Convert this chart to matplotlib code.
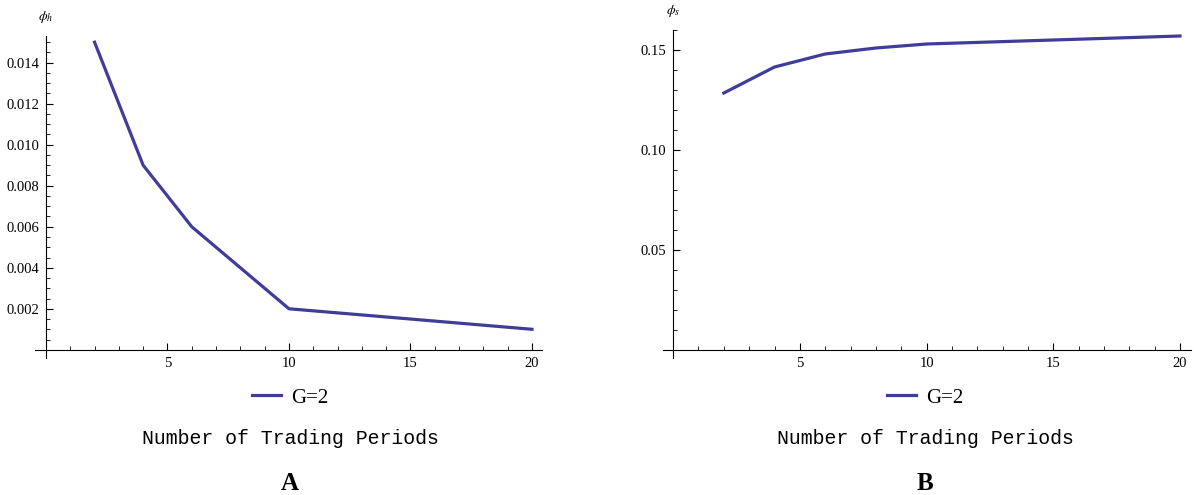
import matplotlib.pyplot as plt
from matplotlib.ticker import MultipleLocator

# data
periods_h = [2, 4, 6, 10, 20]
phi_h = [0.015, 0.009, 0.006, 0.002, 0.001]

periods_s = [2, 4, 6, 8, 10, 20]
phi_s = [0.1285, 0.1415, 0.148, 0.151, 0.153, 0.157]

x_ticks = [5, 10, 15, 20]
h_ticks = [0.002, 0.004, 0.006, 0.008, 0.010, 0.012, 0.014]
s_ticks = [0.05, 0.10, 0.15]

LINE = '#3F3D99'
W, H = 1194, 495

plt.rcParams['font.family'] = ['Liberation Serif', 'DejaVu Serif']
plt.rcParams['mathtext.fontset'] = 'stix'


def px_axes(fig, x0, x1, ytop, ybot):
    return fig.add_axes([x0 / W, 1 - ybot / H, (x1 - x0) / W, (ybot - ytop) / H])


def style(ax, ylabel, yminor, yfmt):
    for s in ['top', 'right']:
        ax.spines[s].set_visible(False)
    ax.spines['left'].set_position(('data', 0))
    ax.spines['bottom'].set_position(('data', 0))
    ax.spines['left'].set_linewidth(0.8)
    ax.spines['bottom'].set_linewidth(0.8)
    ax.xaxis.set_minor_locator(MultipleLocator(1))
    ax.yaxis.set_minor_locator(MultipleLocator(yminor))
    ax.tick_params(which='major', direction='in', length=5, width=0.8, labelsize=10.5, pad=5)
    ax.tick_params(which='minor', direction='in', length=3, width=0.6)
    ax.set_xticks(x_ticks)
    ax.set_xticklabels([str(t) for t in x_ticks])
    ax.yaxis.set_major_formatter(plt.FuncFormatter(lambda v, p: yfmt.format(v)))
    # axis label sits above the top of the y axis
    ax.text(0, 1.035, ylabel, transform=ax.get_xaxis_transform(), ha='center', va='bottom', fontsize=10)


fig = plt.figure(figsize=(W / 100, H / 100), dpi=100)

# panel A
ax1 = px_axes(fig, 35, 541.7, 36, 358)
ax1.plot(periods_h, phi_h, color=LINE, lw=2.3, label='G=2')
ax1.set_xlim(-0.45, 20.4)
ax1.set_ylim(-0.0004, 0.0153)
ax1.set_yticks(h_ticks)
style(ax1, r'$\phi_h$', 0.0005, '{:.3f}')

# panel B
ax2 = px_axes(fig, 663, 1191.4, 30, 358)
ax2.plot(periods_s, phi_s, color=LINE, lw=2.3, label='G=2')
ax2.set_xlim(-0.4, 20.45)
ax2.set_ylim(-0.004, 0.16)
ax2.set_yticks(s_ticks)
style(ax2, r'$\phi_s$', 0.01, '{:.2f}')

for ax, cx, letter in [(ax1, 290, 'A'), (ax2, 925, 'B')]:
    ax.legend(loc='center', bbox_to_anchor=(cx / W, 1 - 398 / H), bbox_transform=fig.transFigure,
              frameon=False, fontsize=15, handlelength=1.4, handletextpad=0.5)
    fig.text(cx / W, 1 - 439 / H, 'Number of Trading Periods', ha='center', va='center',
             family='Liberation Mono', fontsize=14.3)
    fig.text(cx / W, 1 - 483 / H, letter, ha='center', va='center', fontsize=18, weight='bold')

fig.savefig('out.png', dpi=100)
